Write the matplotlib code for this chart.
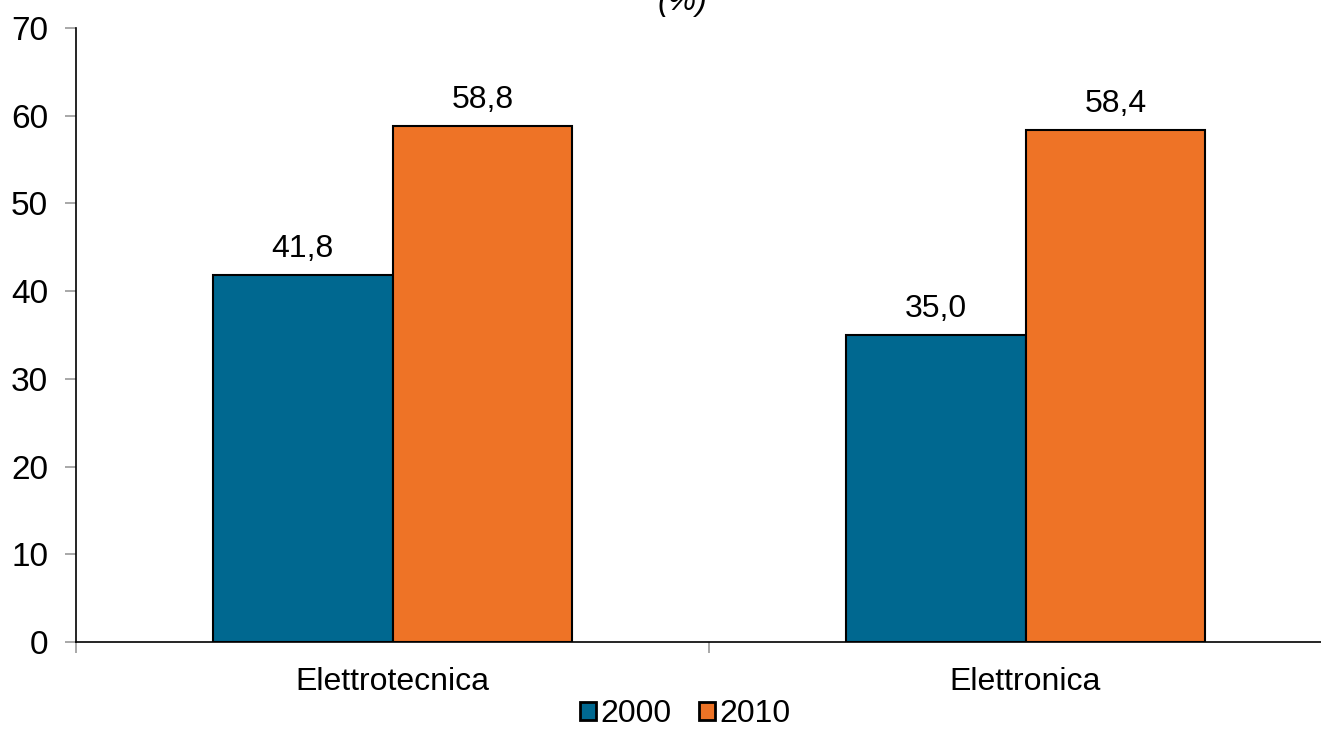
import matplotlib
matplotlib.use("Agg")
import matplotlib.pyplot as plt
import numpy as np

plt.rcParams['font.family'] = ['Liberation Sans', 'DejaVu Sans']

categories = ["Elettrotecnica", "Elettronica"]
years = ["2000", "2010"]
values_2000 = [41.8, 35.0]
values_2010 = [58.8, 58.4]
y_ticks = [0, 10, 20, 30, 40, 50, 60, 70]

colors = ["#006890", "#EE7326"]
FS = 23

W, H = 1321, 729
fig = plt.figure(figsize=(W / 100, H / 100), dpi=100)
left, right = 76 / W, 1342 / W
bottom, top = 1 - 642 / H, 1 - 28 / H
ax = fig.add_axes([left, bottom, right - left, top - bottom])

x = np.arange(len(categories))
bw = 0.284
series = [values_2000, values_2010]
for i, (vals, col, lab) in enumerate(zip(series, colors, years)):
    pos = x + (i - 0.5) * bw
    bars = ax.bar(pos, vals, width=bw, color=col, edgecolor="black",
                  linewidth=1.5, label=lab, zorder=2)
    for b, v in zip(bars, vals):
        ax.annotate(f"{v:.1f}".replace(".", ","),
                    (b.get_x() + b.get_width() / 2, v),
                    xytext=(0, 8), textcoords="offset points",
                    ha="center", va="bottom", fontsize=FS)

ax.set_xlim(-0.5, len(categories) - 0.5)
ax.set_ylim(0, 70)
ax.set_yticks(y_ticks)
ax.set_yticklabels([str(t) for t in y_ticks], fontsize=FS + 1)
ax.set_xticks([-0.5, 0.5, 1.5])
ax.set_xticklabels([])
ax.set_xticks(x, minor=True)
ax.set_xticklabels(categories, minor=True, fontsize=FS)
ax.tick_params(axis="x", which="minor", length=0, pad=18)
ax.tick_params(axis="x", which="major", length=8, color="#999999", width=1.2)
ax.tick_params(axis="y", length=8, color="#999999", width=1.2, pad=12)

for s in ["top", "right"]:
    ax.spines[s].set_visible(False)
ax.spines["left"].set_linewidth(1.2)
ax.spines["bottom"].set_linewidth(1.2)

fig.text(682 / W, 1 - 2 / H, "(%)", ha="center", va="center", fontsize=FS,
         style="italic")

leg = fig.legend(loc="center", bbox_to_anchor=(685 / W, 1 - 714 / H),
                 ncol=2, frameon=False, fontsize=FS, handlelength=0.5,
                 handleheight=0.5, handletextpad=0.15, columnspacing=0.85,
                 borderpad=0)
for h in leg.legend_handles:
    h.set_linewidth(2.0)

fig.savefig("out.png", dpi=100)
